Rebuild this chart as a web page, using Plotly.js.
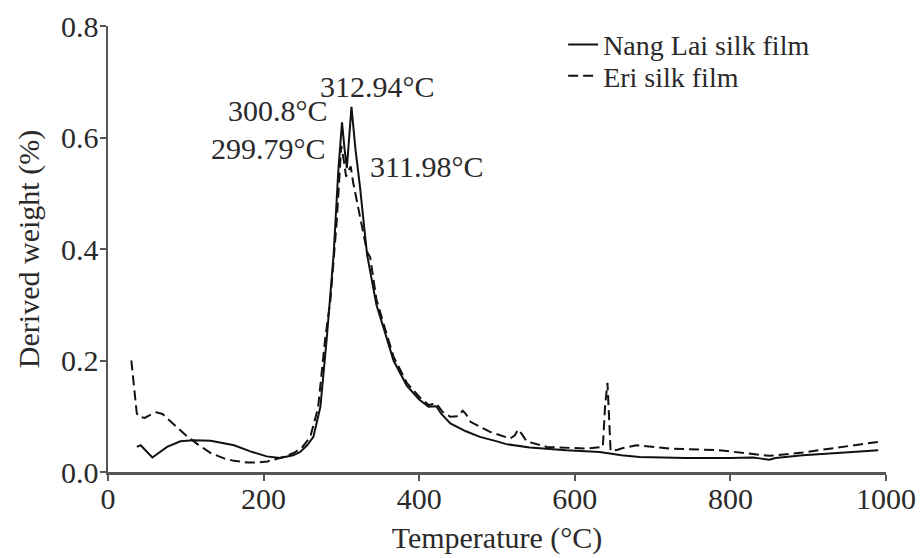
<!DOCTYPE html>
<html>
<head>
<meta charset="utf-8">
<script src="https://cdn.plot.ly/plotly-3.0.1.min.js"></script>
<style>html,body{margin:0;padding:0;background:#fff;}#chart{width:924px;height:558px;}</style>
</head>
<body>
<div id="chart"></div>
<script>
// Nang Lai silk film (solid)
const nangLaiTemp = [37, 42, 57, 76, 93, 110, 132, 150, 162, 183, 204, 221, 238, 247, 256, 264, 273, 281, 290, 296, 300.8, 304, 307, 310, 312.94, 318, 324, 333, 345, 355, 367, 384, 400, 412, 422, 428, 440, 460, 478, 500, 512, 542, 589, 632, 660, 683, 743, 800, 829, 840, 850, 858, 893, 957, 990];
const nangLaiDW   = [0.045, 0.048, 0.026, 0.045, 0.055, 0.057, 0.056, 0.052, 0.048, 0.037, 0.028, 0.025, 0.030, 0.036, 0.048, 0.063, 0.117, 0.237, 0.39, 0.54, 0.627, 0.58, 0.545, 0.60, 0.655, 0.58, 0.51, 0.39, 0.30, 0.255, 0.20, 0.155, 0.13, 0.117, 0.118, 0.105, 0.087, 0.073, 0.063, 0.055, 0.050, 0.044, 0.039, 0.036, 0.030, 0.027, 0.025, 0.025, 0.026, 0.024, 0.022, 0.025, 0.030, 0.036, 0.039];

// Eri silk film (dashed)
const eriTemp = [30, 37, 40, 47, 55, 62, 70, 85, 100, 115, 132, 150, 162, 180, 192, 205, 213, 228, 240, 250, 260, 270, 279, 286, 294, 299.79, 303, 306, 309, 311.98, 315, 322, 330, 333, 337, 345, 355, 367, 384, 400, 412, 422, 430, 440, 450, 456, 460, 466, 491, 517, 523, 527, 532, 538, 564, 590, 615, 636, 639, 642, 644, 646, 655, 662, 679, 700, 722, 786, 829, 850, 893, 957, 990];
const eriDW   = [0.20, 0.105, 0.099, 0.097, 0.103, 0.107, 0.104, 0.085, 0.066, 0.050, 0.034, 0.024, 0.020, 0.017, 0.017, 0.019, 0.022, 0.028, 0.035, 0.045, 0.063, 0.115, 0.237, 0.31, 0.45, 0.585, 0.56, 0.53, 0.54, 0.548, 0.52, 0.47, 0.41, 0.395, 0.385, 0.31, 0.262, 0.207, 0.16, 0.135, 0.12, 0.123, 0.108, 0.099, 0.100, 0.110, 0.104, 0.090, 0.072, 0.060, 0.066, 0.076, 0.068, 0.055, 0.045, 0.043, 0.042, 0.045, 0.12, 0.16, 0.10, 0.038, 0.040, 0.043, 0.048, 0.045, 0.042, 0.039, 0.033, 0.029, 0.035, 0.047, 0.054];

const xTicks = [0, 200, 400, 600, 800, 1000];
const yTicks = [0.0, 0.2, 0.4, 0.6, 0.8];
const yTickText = ['0.0', '0.2', '0.4', '0.6', '0.8'];

const peakLabels = ['312.94°C', '300.8°C', '299.79°C', '311.98°C'];
const peakLabelX = [346, 285.6, 283, 334.4];
const peakLabelY = [0.691, 0.649, 0.581, 0.548];
const peakAnchor = ['center', 'right', 'right', 'left'];

const FONT = "'Liberation Serif', 'Times New Roman', Times, serif";
const TXT = '#2a2a2a';
const AX = '#555555';

const traces = [
  {x: nangLaiTemp, y: nangLaiDW, type: 'scatter', mode: 'lines', name: 'Nang Lai silk film',
   legend: 'legend', line: {color: '#111111', width: 2, dash: 'solid'}},
  {x: eriTemp, y: eriDW, type: 'scatter', mode: 'lines', name: 'Eri silk film',
   legend: 'legend2', line: {color: '#111111', width: 2, dash: '10px,5px'}}
];

const annotations = peakLabels.map((t, i) => ({
  text: t, x: peakLabelX[i], y: peakLabelY[i], xref: 'x', yref: 'y',
  xanchor: peakAnchor[i], yanchor: 'middle', showarrow: false,
  font: {family: FONT, size: 30, color: TXT}
}));

const legendFont = {family: FONT, size: 28, color: TXT};

const layout = {
  width: 924, height: 558,
  margin: {l: 107.5, r: 37.5, t: 26, b: 86},
  paper_bgcolor: '#ffffff', plot_bgcolor: '#ffffff',
  font: {family: FONT, size: 30, color: TXT},
  showlegend: true,
  legend: {x: 0.585, y: 0.958, xanchor: 'left', yanchor: 'middle', bgcolor: 'rgba(0,0,0,0)',
           font: legendFont, itemwidth: 30},
  legend2: {x: 0.585, y: 0.888, xanchor: 'left', yanchor: 'middle', bgcolor: 'rgba(0,0,0,0)',
           font: legendFont, itemwidth: 30},
  xaxis: {
    range: [0, 1000], tickvals: xTicks, ticktext: xTicks.map(String),
    showgrid: false, zeroline: false, showline: true, linecolor: AX, linewidth: 2.5,
    ticks: 'outside', ticklen: 6, tickwidth: 2, tickcolor: AX, ticklabelstandoff: -8,
    tickfont: {family: FONT, size: 30, color: TXT},
    title: {text: 'Temperature (°C)', font: {family: FONT, size: 30, color: TXT}, standoff: 14}
  },
  yaxis: {
    range: [0, 0.8], tickvals: yTicks, ticktext: yTickText,
    showgrid: false, zeroline: false, showline: true, linecolor: AX, linewidth: 2.5,
    ticks: 'outside', ticklen: 6, tickwidth: 2, tickcolor: AX, ticklabelstandoff: -5,
    tickfont: {family: FONT, size: 30, color: TXT},
    title: {text: 'Derived weight (%)', font: {family: FONT, size: 30, color: TXT}, standoff: 13}
  },
  annotations: annotations
};

Plotly.newPlot('chart', traces, layout, {staticPlot: true, displayModeBar: false});
</script>
</body>
</html>
